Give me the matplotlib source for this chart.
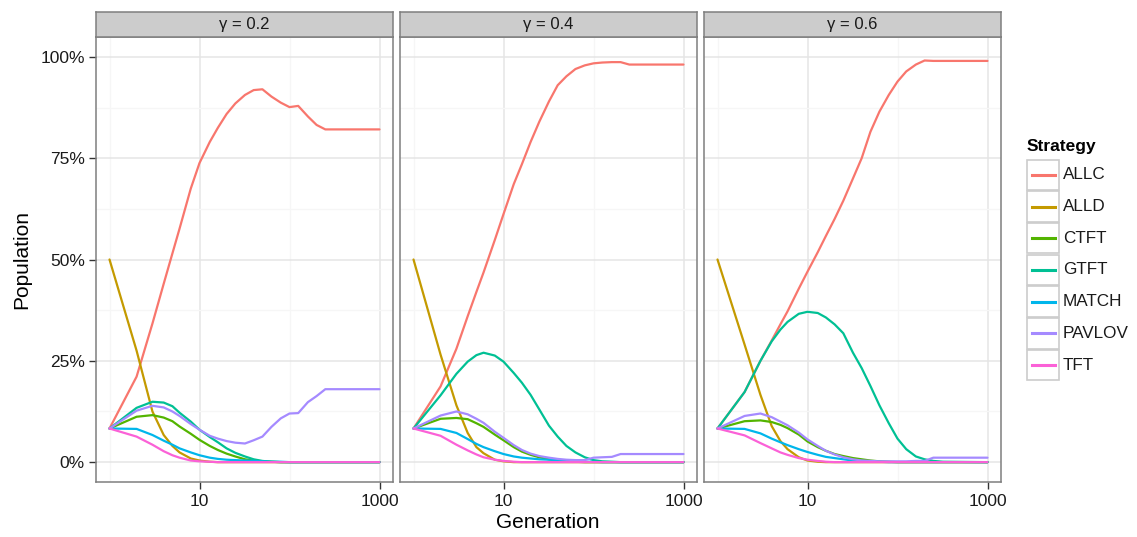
import matplotlib
matplotlib.use("Agg")
import matplotlib.pyplot as plt
from matplotlib.ticker import FixedLocator, FixedFormatter, NullFormatter
from matplotlib.patches import Rectangle
from matplotlib.lines import Line2D

plt.rcParams['font.family'] = ['Liberation Sans', 'DejaVu Sans']

# ---------------------------------------------------------------- data
generation = [1, 2, 3, 4, 5, 6, 8, 10, 13, 16, 20, 25, 32, 40, 50, 63, 80,
              100, 125, 160, 200, 250, 320, 1000]

strategies = ["ALLC", "ALLD", "CTFT", "GTFT", "MATCH", "PAVLOV", "TFT"]
gammas = ["0.2", "0.4", "0.6"]

# gamma = 0.2
allc_02 = [0.083, 0.211, 0.342, 0.440, 0.515, 0.576, 0.675, 0.738, 0.790, 0.825, 0.859, 0.885,
           0.906, 0.918, 0.920, 0.902, 0.887, 0.876, 0.879, 0.853, 0.832, 0.821, 0.821, 0.821]
alld_02 = [0.500, 0.275, 0.125, 0.067, 0.040, 0.024, 0.009, 0.004, 0.001, 0, 0, 0,
           0, 0, 0, 0, 0, 0, 0, 0, 0, 0, 0, 0]
ctft_02 = [0.083, 0.112, 0.116, 0.110, 0.101, 0.088, 0.070, 0.055, 0.040, 0.030, 0.021, 0.014,
           0.007, 0.004, 0.002, 0.001, 0, 0, 0, 0, 0, 0, 0, 0]
gtft_02 = [0.083, 0.134, 0.149, 0.147, 0.138, 0.122, 0.100, 0.080, 0.062, 0.049, 0.034, 0.023,
           0.014, 0.007, 0.003, 0.001, 0, 0, 0, 0, 0, 0, 0, 0]
match_02 = [0.083, 0.082, 0.067, 0.053, 0.043, 0.034, 0.024, 0.017, 0.011, 0.008, 0.006, 0.005,
            0.004, 0.003, 0.002, 0.001, 0.001, 0, 0, 0, 0, 0, 0, 0]
pavlov_02 = [0.083, 0.127, 0.139, 0.135, 0.125, 0.114, 0.094, 0.080, 0.065, 0.058, 0.052, 0.048,
             0.046, 0.054, 0.063, 0.087, 0.108, 0.120, 0.121, 0.148, 0.163, 0.180, 0.180, 0.180]
tft_02 = [0.083, 0.063, 0.043, 0.027, 0.017, 0.011, 0.004, 0.002, 0.001, 0, 0, 0,
          0, 0, 0, 0, 0, 0, 0, 0, 0, 0, 0, 0]

# gamma = 0.4
allc_04 = [0.083, 0.187, 0.280, 0.360, 0.420, 0.468, 0.548, 0.612, 0.686, 0.735, 0.790, 0.840,
           0.890, 0.930, 0.952, 0.970, 0.979, 0.984, 0.986, 0.987, 0.987, 0.981, 0.981, 0.981]
alld_04 = [0.500, 0.265, 0.140, 0.072, 0.037, 0.022, 0.006, 0.002, 0, 0, 0, 0,
           0, 0, 0, 0, 0, 0, 0, 0, 0, 0, 0, 0]
ctft_04 = [0.083, 0.107, 0.109, 0.106, 0.096, 0.087, 0.068, 0.054, 0.037, 0.026, 0.018, 0.012,
           0.007, 0.004, 0.002, 0.001, 0, 0, 0, 0, 0, 0, 0, 0]
gtft_04 = [0.083, 0.165, 0.218, 0.248, 0.264, 0.270, 0.263, 0.248, 0.220, 0.196, 0.166, 0.130,
           0.090, 0.063, 0.040, 0.024, 0.012, 0.005, 0.002, 0.001, 0, 0, 0, 0]
match_04 = [0.083, 0.082, 0.072, 0.057, 0.045, 0.037, 0.027, 0.020, 0.014, 0.011, 0.009, 0.007,
            0.006, 0.005, 0.004, 0.002, 0.001, 0.001, 0, 0, 0, 0, 0, 0]
pavlov_04 = [0.083, 0.115, 0.125, 0.118, 0.107, 0.097, 0.075, 0.060, 0.042, 0.030, 0.021, 0.015,
             0.011, 0.008, 0.006, 0.005, 0.005, 0.011, 0.012, 0.013, 0.020, 0.020, 0.020, 0.020]
tft_04 = [0.083, 0.065, 0.043, 0.029, 0.019, 0.012, 0.006, 0.003, 0.001, 0, 0, 0,
          0, 0, 0, 0, 0, 0, 0, 0, 0, 0, 0, 0]

# gamma = 0.6
allc_06 = [0.083, 0.173, 0.250, 0.300, 0.340, 0.372, 0.428, 0.470, 0.518, 0.558, 0.600, 0.645,
           0.700, 0.750, 0.815, 0.865, 0.906, 0.939, 0.964, 0.981, 0.991, 0.990, 0.990, 0.990]
alld_06 = [0.500, 0.290, 0.166, 0.089, 0.052, 0.032, 0.012, 0.004, 0.001, 0, 0, 0,
           0, 0, 0, 0, 0, 0, 0, 0, 0, 0, 0, 0]
ctft_06 = [0.083, 0.101, 0.103, 0.099, 0.092, 0.084, 0.068, 0.051, 0.037, 0.028, 0.020, 0.015,
           0.010, 0.007, 0.004, 0.002, 0.001, 0, 0, 0, 0, 0, 0, 0]
gtft_06 = [0.083, 0.173, 0.250, 0.298, 0.327, 0.346, 0.366, 0.371, 0.368, 0.357, 0.340, 0.318,
           0.270, 0.232, 0.188, 0.140, 0.096, 0.058, 0.032, 0.014, 0.007, 0.003, 0.001, 0]
match_06 = [0.083, 0.082, 0.071, 0.058, 0.049, 0.042, 0.032, 0.025, 0.018, 0.013, 0.010, 0.007,
            0.004, 0.003, 0.002, 0.001, 0, 0, 0, 0, 0, 0, 0, 0]
pavlov_06 = [0.083, 0.114, 0.120, 0.111, 0.100, 0.091, 0.073, 0.056, 0.040, 0.028, 0.019, 0.012,
             0.007, 0.004, 0.003, 0.002, 0.002, 0.002, 0.002, 0.003, 0.003, 0.011, 0.011, 0.011]
tft_06 = [0.083, 0.066, 0.047, 0.034, 0.024, 0.018, 0.010, 0.006, 0.003, 0.001, 0, 0,
          0, 0, 0, 0, 0, 0, 0, 0, 0, 0, 0, 0]

y_ticks = [0, 0.25, 0.5, 0.75, 1.0]
y_tick_labels = ["0%", "25%", "50%", "75%", "100%"]
x_ticks = [10, 1000]
x_tick_labels = ["10", "1000"]

panels = [
    [allc_02, alld_02, ctft_02, gtft_02, match_02, pavlov_02, tft_02],
    [allc_04, alld_04, ctft_04, gtft_04, match_04, pavlov_04, tft_04],
    [allc_06, alld_06, ctft_06, gtft_06, match_06, pavlov_06, tft_06],
]

# ggplot2 default hue palette for 7 groups
colors = ["#F8766D", "#C49A00", "#53B400", "#00C094", "#00B6EB", "#A58AFF", "#FB61D7"]

# ---------------------------------------------------------------- layout
W, H = 1137, 537
fig = plt.figure(figsize=(W / 100, H / 100), dpi=100)
fig.patch.set_facecolor("white")


def box(left, top, width, height):
    return [left / W, 1 - (top + height) / H, width / W, height / H]


TEXT = "#1A1A1A"
BORDER = "#7F7F7F"
panel_left = [96, 400, 704]
panel_w = 297

for i, (gamma, series) in enumerate(zip(gammas, panels)):
    ax = fig.add_axes(box(panel_left[i], 37, panel_w, 445))
    ax.set_xscale("log")
    ax.set_xlim(10 ** -0.15, 10 ** 3.15)
    ax.set_ylim(-0.049, 1.049)

    ax.xaxis.set_major_locator(FixedLocator(x_ticks))
    ax.xaxis.set_minor_locator(FixedLocator([1, 100]))
    ax.xaxis.set_major_formatter(FixedFormatter(x_tick_labels))
    ax.xaxis.set_minor_formatter(NullFormatter())
    ax.yaxis.set_major_locator(FixedLocator(y_ticks))
    ax.yaxis.set_minor_locator(FixedLocator([0.125, 0.375, 0.625, 0.875]))

    ax.grid(which="major", color="#E5E5E5", linewidth=1.1)
    ax.grid(which="minor", color="#F6F6F6", linewidth=0.9)
    ax.set_axisbelow(True)

    for s in ax.spines.values():
        s.set_color(BORDER)
        s.set_linewidth(1.1)

    ax.tick_params(which="minor", length=0)
    ax.tick_params(axis="x", which="major", length=5, width=1.0, color="#333333",
                   labelsize=12.5, labelcolor=TEXT, pad=4)
    if i == 0:
        ax.yaxis.set_major_formatter(FixedFormatter(y_tick_labels))
        ax.tick_params(axis="y", which="major", length=5, width=1.0, color="#333333",
                       labelsize=12.5, labelcolor=TEXT, pad=3)
    else:
        ax.tick_params(axis="y", which="major", length=0, labelleft=False)

    for values, color in zip(series, colors):
        ax.plot(generation, values, color=color, linewidth=1.6,
                solid_joinstyle="round", solid_capstyle="round")

    # facet strip
    st = fig.add_axes(box(panel_left[i], 12, panel_w, 25))
    st.set_facecolor("#CCCCCC")
    st.set_xticks([])
    st.set_yticks([])
    for s in st.spines.values():
        s.set_color(BORDER)
        s.set_linewidth(1.1)
    st.text(0.5, 0.5, "γ = " + gamma, ha="center", va="center",
            fontsize=12, color=TEXT, transform=st.transAxes)

# axis titles
fig.text(548 / W, 1 - 522 / H, "Generation", ha="center", va="center",
         fontsize=15, color="black")
fig.text(22 / W, 1 - 260 / H, "Population", ha="center", va="center",
         fontsize=15, color="black", rotation=90)

# legend
fig.text(1027 / W, 1 - 147 / H, "Strategy", ha="left", va="center",
         fontsize=12.5, fontweight="bold", color="black")
for k, (name, color) in enumerate(zip(strategies, colors)):
    top = 159.5 + 31.7 * k
    fig.patches.append(Rectangle((1027 / W, 1 - (top + 30.5) / H), 32 / W, 30.5 / H,
                                 transform=fig.transFigure, facecolor="white",
                                 edgecolor="#CCCCCC", linewidth=1.2))
    yc = 1 - (top + 15.3) / H
    fig.lines.append(Line2D([1031.5 / W, 1054.5 / W], [yc, yc], transform=fig.transFigure,
                            color=color, linewidth=2.2))
    fig.text(1063 / W, yc, name, ha="left", va="center", fontsize=12.3, color=TEXT)

fig.savefig("out.png", dpi=100)
